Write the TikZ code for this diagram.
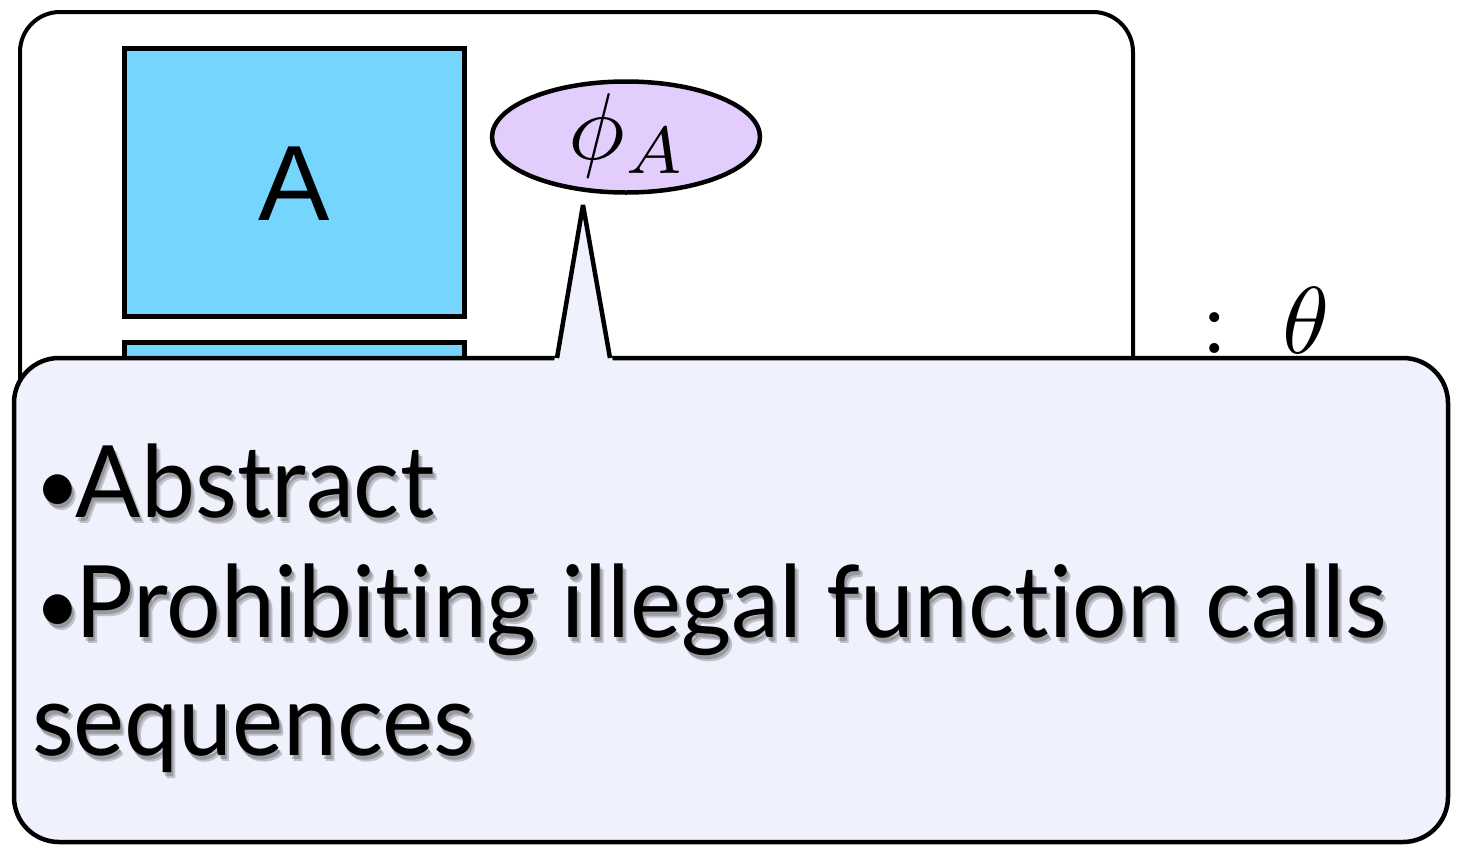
\documentclass[tikz,border=0pt]{standalone}
\usepackage{graphicx}
\usepackage{fontspec}
\newfontfamily\notefont[Ligatures=NoCommon, FakeStretch=0.965]{Lato}
\newfontfamily\boxfont{Liberation Sans}
\usetikzlibrary{shapes.geometric,calc}

\definecolor{blockblue}{HTML}{75D5FD}
\definecolor{phifill}{HTML}{E3CDFD}
\definecolor{notefill}{HTML}{EFF2FC}

\tikzset{
  frame/.style={draw=black, line width=4pt, rounded corners=40pt},
  blockbox/.style={draw=black, fill=blockblue, line width=5pt, inner sep=0pt,
    minimum width=340pt, minimum height=268pt},
  phinode/.style={ellipse, draw=black, fill=phifill, line width=4.5pt, inner sep=0pt,
    minimum width=268pt, minimum height=111pt},
  notebody/.style={draw=black, fill=notefill, line width=4.5pt, rounded corners=45pt,
    inner sep=0pt, minimum width=1434pt, minimum height=484pt},
  noteline/.style={anchor=base west, inner sep=0pt, font=\notefont\fontsize{100}{110}\selectfont},
  noteshadow/.style={noteline, text=black, opacity=0.2},
  mathlabel/.style={anchor=base, inner sep=0pt},
}

% large math set at 10pt and enlarged
\newcommand\bigmath[1]{\scalebox{9.5}{$#1$}}

% small bullet set close to the following word
\newcommand\notebullet{{\fontsize{80}{80}\selectfont\raisebox{4pt}{\textbullet}}\kern-4pt}

% a line of the note, with a soft drop shadow underneath
\newcommand\noteitem[3]{%
  \foreach \dx/\dy in {2/4,4/6}{%
    \node[noteshadow] at ($(#1)+(\dx,\dy)$) {#3};}
  \node[noteline] (#2) at (#1) {#3};}

\begin{document}
\begin{tikzpicture}[x=1pt, y=-1pt]
\useasboundingbox (0,0) rectangle (1460,844);

% outer component frame (lower part hidden by the note)
\draw[frame] (20,12) rectangle (1133,520);

% component blocks
\node[blockbox] (blockA) at (294,182) {};
\node[anchor=base, inner sep=0pt, font=\boxfont\fontsize{107}{110}\selectfont] (labelA) at (294,220) {A};
\node[blockbox, minimum height=200pt] (blockB) at (294,442) {};

% formula bubble
\node[phinode] (phi) at (626,137) {};
\node[mathlabel] (philabel) at (628,159) {\bigmath{\phi_A}};

% type annotation
\node[mathlabel] (colon) at (1215,353) {\bigmath{:}};
\node[mathlabel] (theta) at (1306,353) {\bigmath{\theta}};

% note with pointer
\node[notebody] (note) at (731,600) {};
\coordinate (tipL) at (557,358);
\coordinate (tip) at (583,205);
\coordinate (tipR) at (610,358);
\fill[notefill] (554,362) -- (tip) -- (613,362) -- cycle;
\draw[line width=4.5pt, line join=bevel] (tipL) -- (tip) -- (tipR);

\noteitem{35,517}{itemA}{\notebullet Abstract}
\noteitem{35,637}{itemB}{\notebullet Prohibiting illegal function calls}
\noteitem{32,755}{itemC}{sequences}
\end{tikzpicture}
\end{document}
